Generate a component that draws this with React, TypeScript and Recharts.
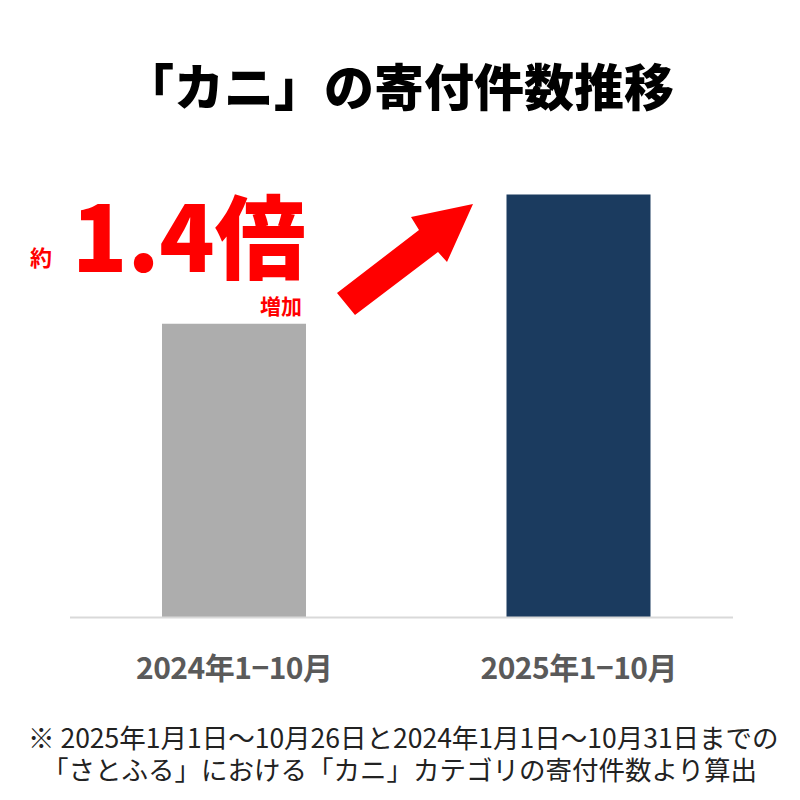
import { Bar, BarChart, Cell, XAxis, YAxis } from "recharts";

const categories = ["2024年1−10月", "2025年1−10月"];
const counts = [100, 144];
const barColors = ["#ADADAD", "#1B3B5F"];

const data = categories.map((name, i) => ({ name, value: counts[i] }));

const font = '"Noto Sans CJK JP", "Noto Sans", sans-serif';

const PeriodTick = ({ x, y, payload }: any) => (
  <text
    x={x}
    y={y + 62}
    textAnchor="middle"
    fill="#5A5A5A"
    fontSize={30}
    fontWeight={700}
    fontFamily={font}
    letterSpacing={-0.5}
  >
    {payload.value}
  </text>
);

const App = () => {
  return (
    <div
      style={{
        position: "absolute",
        left: 0,
        top: 0,
        width: 800,
        height: 800,
        background: "#fff",
        fontFamily: font,
      }}
    >
      <BarChart
        width={800}
        height={800}
        data={data}
        margin={{ top: 177, right: 49, left: 62, bottom: 123 }}
        style={{ position: "absolute", left: 0, top: 0 }}
      >
        <XAxis
          dataKey="name"
          axisLine={false}
          tickLine={false}
          tickSize={0}
          tickMargin={0}
          height={60}
          interval={0}
          tick={<PeriodTick />}
        />
        <YAxis hide domain={[0, 150]} />
        <Bar dataKey="value" barSize={144} isAnimationActive={false}>
          {data.map((d, i) => (
            <Cell key={d.name} fill={barColors[i]} />
          ))}
        </Bar>
      </BarChart>
      <svg
        width={800}
        height={800}
        style={{ position: "absolute", left: 0, top: 0, pointerEvents: "none" }}
        fontFamily={font}
      >
        <line x1={70} x2={733} y1={617.5} y2={617.5} stroke="#D9D9D9" strokeWidth={2} />
        <text
          x={399}
          y={106}
          textAnchor="middle"
          fontSize={50}
          fontWeight={900}
          fill="#000"
        >
          「カニ」の寄付件数推移
        </text>
        <text x={30} y={266} fontSize={22} fontWeight={700} fill="#F00">
          約
        </text>
        <text x={72} y={272} fontSize={91} fontWeight={900} fill="#F00">
          1.4倍
        </text>
        <text x={302} y={314} textAnchor="end" fontSize={21} fontWeight={700} fill="#F00">
          増加
        </text>
        <polygon
          points="337,293 419,230 411,217 473,204 447,262 438,252 355,315"
          fill="#F00"
        />
        <text x={28} y={748} fontSize={26.5} fill="#222">
          ※ 2025年1月1日〜10月26日と2024年1月1日〜10月31日までの
        </text>
        <text x={42} y={780} fontSize={26.5} fill="#222">
          「さとふる」における「カニ」カテゴリの寄付件数より算出
        </text>
      </svg>
    </div>
  );
};

export default App;
